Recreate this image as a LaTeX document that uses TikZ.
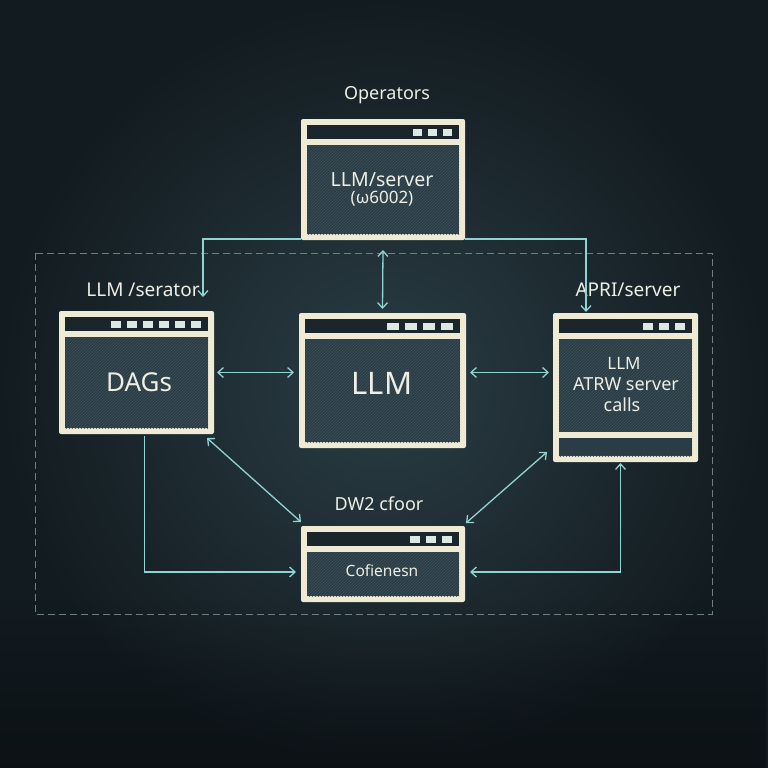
\documentclass[tikz,border=0pt]{standalone}
\usepackage{fontspec}
\setmainfont{Noto Sans}
\usetikzlibrary{arrows.meta,patterns,fadings}
\definecolor{bgA}{HTML}{2B3D45}
\definecolor{bgB}{HTML}{121B20}
\definecolor{cream}{HTML}{EFEAD3}
\definecolor{panel}{HTML}{2A3D47}
\definecolor{tbar}{HTML}{1B262C}
\definecolor{sq}{HTML}{DCE8E2}
\definecolor{arr}{HTML}{8FD3D3}
\definecolor{txt}{HTML}{EEEEE4}
\definecolor{dashc}{HTML}{6F7E84}
\tikzset{
  conn/.style={draw=arr, line width=1.3pt},
  both/.style={conn, {Straight Barb[length=5.5pt,width=10pt]}-{Straight Barb[length=5.5pt,width=10pt]}},
  fwd/.style={conn, -{Straight Barb[length=5.5pt,width=10pt]}},
  lbl/.style={text=txt, inner sep=0pt},
  outerbox/.style={fill=cream, rounded corners=2pt, inner sep=0pt, outer sep=0pt},
}
\newcommand\winbox[7]{%
  \node[outerbox, minimum width={(#4-#2)*1pt}, minimum height={(#5-#3)*1pt}] (#1) at ({(#2+#4)/2},{(#3+#5)/2}) {};
  \fill[tbar] (#2+6,#3+6) rectangle (#4-6,#3+20);
  \fill[panel] (#2+6,#3+26) rectangle (#4-6,#5-6);
  \fill[pattern=north east lines, pattern color=white!10!panel] (#2+6,#3+26) rectangle (#4-6,#5-6);
  \foreach \i in {1,...,#6}{\fill[sq] ({#4-13-(\i-1)*(#7+6)-#7},#3+10) rectangle ++(#7,7);}
}
\begin{document}
\begin{tikzpicture}[x=1pt,y=-1pt]
\useasboundingbox (0,0) rectangle (768,768);
\shade[inner color=bgA, outer color=bgB] (0,0) rectangle (768,768);
\fill[black, opacity=0.35, path fading=north] (0,600) rectangle (768,768);
\draw[dashc, line width=0.9pt, dash pattern=on 7pt off 4pt] (35,253) rectangle (712,614);

\winbox{T}{301}{119}{465}{240}{3}{9}
\winbox{L}{59}{311}{214}{434}{6}{10}
\winbox{C}{299}{313}{466}{448}{4}{12}
\winbox{R}{553}{313}{698}{462}{3}{10}
\fill[cream] (559,432) rectangle (692,438);
\fill[panel] (559,438) rectangle (692,455);
\winbox{B}{301}{526}{465}{602}{3}{10}

% labels
\node[lbl, font=\fontsize{18}{21}\selectfont] (opl) at (387,95) {Operators};
\node[lbl, font=\fontsize{19}{22}\selectfont] (lsl) at (143,290) {LLM /serator};
\node[lbl, font=\fontsize{19}{22}\selectfont] (apl) at (628,290) {APRI/server};
\node[lbl, font=\fontsize{18}{21}\selectfont] (dwl) at (379,504) {DW2 cfoor};

% box texts
\node[lbl, font=\fontsize{19.5}{22}\selectfont] (t1) at (382,180) {LLM/server};
\node[lbl, font=\fontsize{17}{19}\selectfont] (t2) at (382,199) {(ω6002)};
\node[lbl, font=\fontsize{26}{30}\selectfont] (dags) at (139,382) {DAGs};
\node[lbl, font=\fontsize{31}{35}\selectfont] (llm) at (382,383) {LLM};
\node[lbl, font=\fontsize{17}{20}\selectfont] (r1) at (624,363) {LLM};
\node[lbl, font=\fontsize{18}{21}\selectfont] (r2) at (626,384) {ATRW server};
\node[lbl, font=\fontsize{18}{21}\selectfont] (r3) at (622,405) {calls};
\node[lbl, font=\fontsize{15.5}{18}\selectfont] (b1) at (382,571) {Cofienesn};

% connectors
\draw[fwd] ([yshift=1pt]T.south west) -| ([xshift=-11pt,yshift=14pt]L.north east);
\draw[fwd] ([yshift=1pt]T.south east) -| ([xshift=33pt,yshift=1pt]R.north west);
\draw[both] ([yshift=-10pt]T.south) -- ([yshift=4pt]C.north);
\draw[both] ([xshift=3pt]L.east) -- ([xshift=-5pt]L.east -| C.west);
\draw[both] ([xshift=4pt]C.east |- L.east) -- ([xshift=-4pt]R.west |- L.east);
\draw[both] ([xshift=-7pt,yshift=-4pt]L.south east) -- ([yshift=4pt]B.north west);
\draw[both] ([xshift=-6pt,yshift=10pt]R.south west) -- ([xshift=1pt,yshift=3pt]B.north east);
\draw[fwd] ([xshift=8pt,yshift=-2pt]L.south) |- ([xshift=-5pt,yshift=-8pt]B.west);
\draw[both] ([xshift=5pt,yshift=-8pt]B.east) -| ([xshift=-5pt,yshift=-1pt]R.south);
\end{tikzpicture}
\end{document}
